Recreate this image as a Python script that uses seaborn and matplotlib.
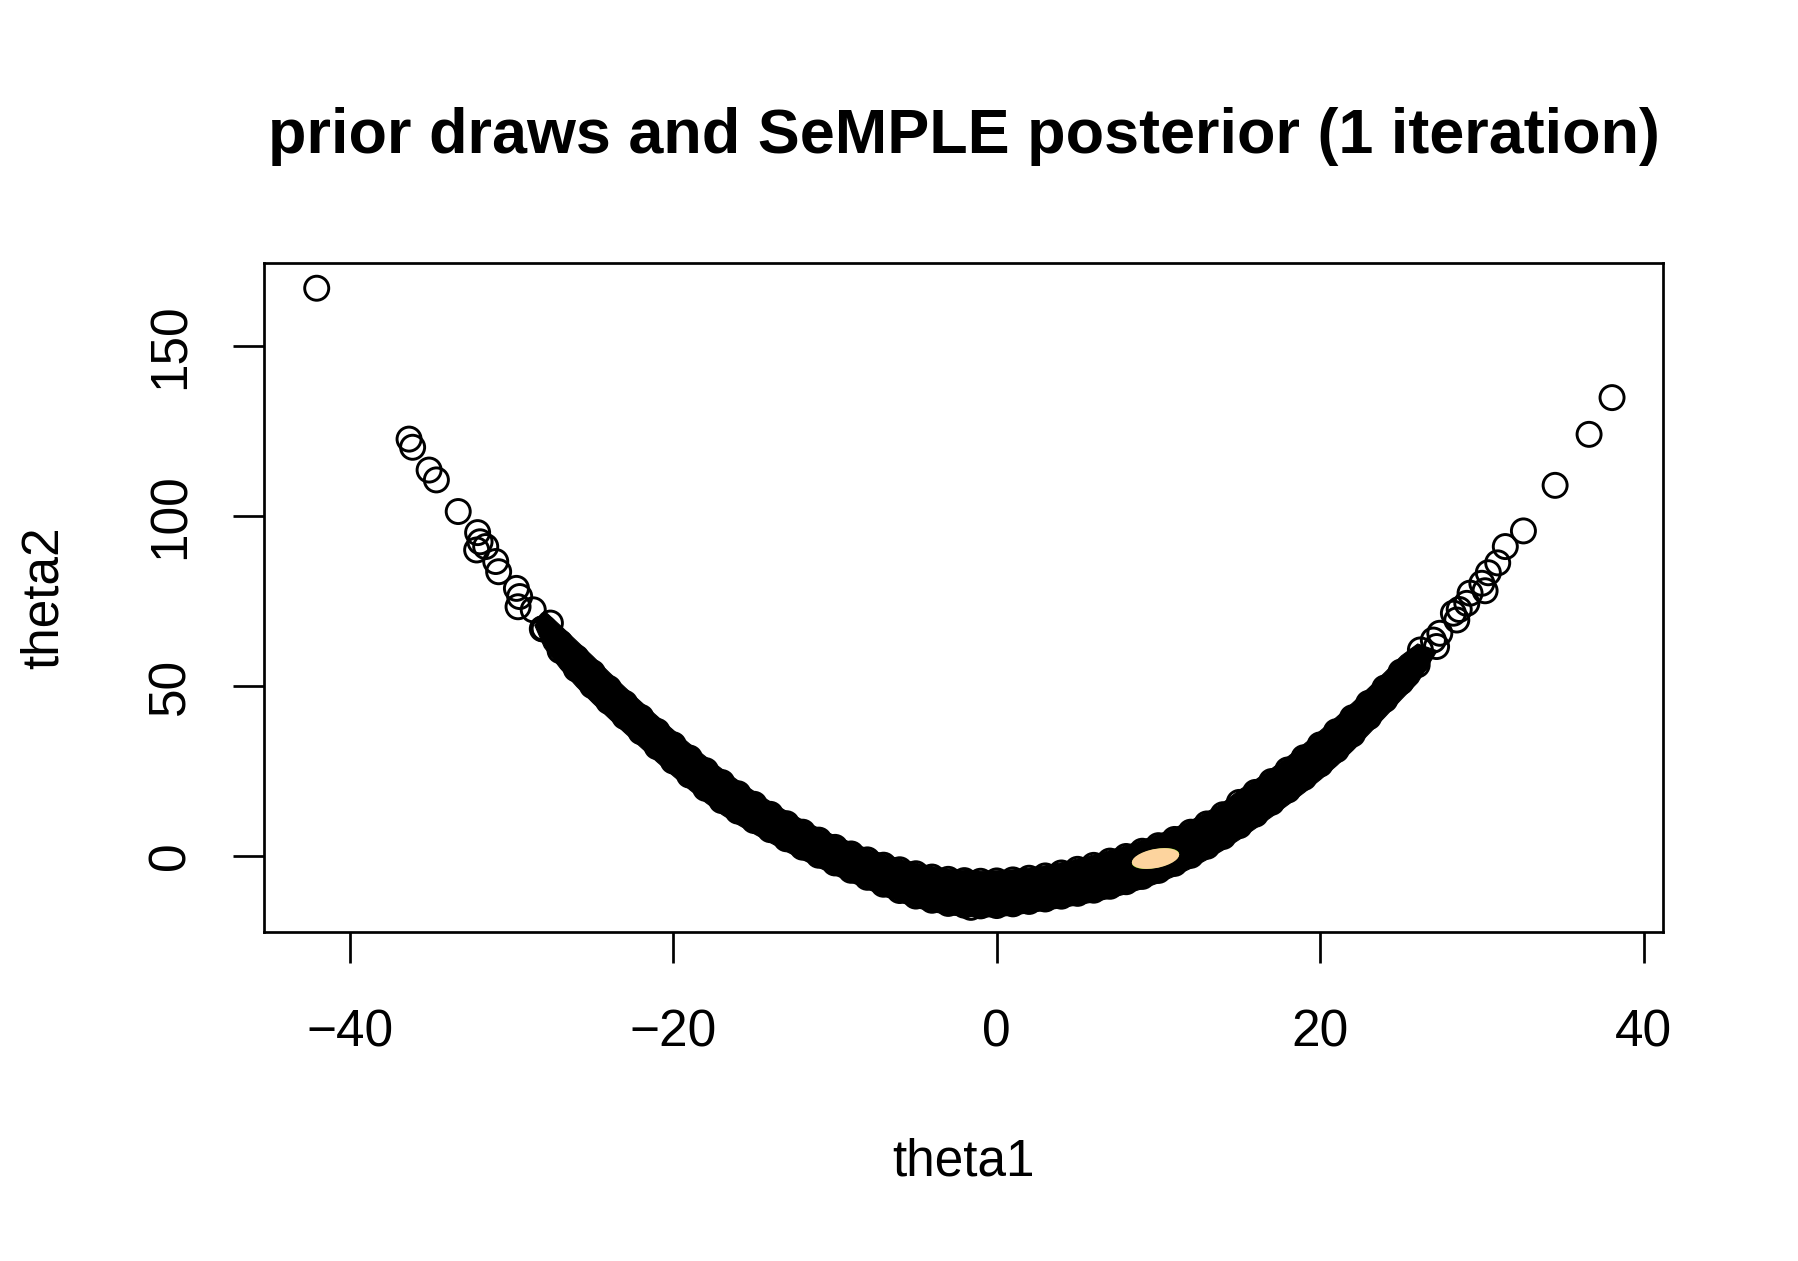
import numpy as np
import pandas as pd
import matplotlib
matplotlib.use("Agg")
import matplotlib.pyplot as plt
import seaborn as sns
from matplotlib.patches import Ellipse

# ---------------- data ----------------
# isolated prior draws (theta1, theta2) that stand out from the dense band
sparse_theta1 = [-42.05, -36.34, -36.12, -35.10, -34.65, -33.30, -32.10, -31.95,
                 -32.16, -31.60, -30.98, -30.80, -29.70, -29.50, -29.60, -28.66,
                 -27.60, -28.10, -1.60,
                 38.05, 36.63, 34.53, 32.57, 31.45, 30.98, 30.40, 30.00, 30.20,
                 29.27, 29.07, 28.24, 28.45, 27.40, 27.20, 26.20, 27.00, 28.60]
sparse_theta2 = [166.97, 122.6, 120.2, 113.5, 110.6, 101.3, 95.1, 92.4,
                 90.0, 91.0, 86.6, 83.6, 78.7, 76.3, 73.3, 72.4,
                 68.5, 66.8, -15.1,
                 134.8, 124.0, 109.0, 95.6, 91.0, 86.2, 83.3, 80.2, 78.0,
                 77.3, 74.3, 71.4, 69.4, 65.5, 61.6, 60.6, 63.5, 72.5]

# dense band of thousands of overlapping prior draws:
# upper and lower outline of the solid black region
band_theta1 = [-28.6, -28, -27, -26, -25, -24, -23, -22, -21, -20, -19, -18, -17, -16, -15,
               -14, -13, -12, -11, -10, -9, -8, -7, -6, -5, -4, -3, -2, -1, 0,
               1, 2, 3, 4, 5, 6, 7, 8, 9, 10, 11, 12, 13, 14,
               15, 16, 17, 18, 19, 20, 21, 22, 23, 24, 25, 26, 27.2]
band_top = [68.0, 72.2, 67.8, 63.3, 58.8, 54.1, 49.6, 45.3, 41.1, 37.0, 33.0, 29.2, 25.6, 22.2, 19.0,
            16.0, 13.2, 10.6, 8.2, 6.0, 4.0, 2.2, 0.6, -0.8, -2.0, -3.0, -3.7, -4.1, -4.3, -4.2,
            -3.9, -3.4, -2.7, -1.8, -0.7, 0.5, 1.8, 3.2, 4.8, 6.5, 8.4, 10.6, 13.1, 15.9,
            19.6, 22.6, 25.9, 29.4, 33.1, 37.0, 41.0, 45.2, 49.6, 54.2, 59.0, 62.5, 60.5]
band_bottom = [68.0, 61.5, 55.3, 50.0, 45.2, 40.7, 36.3, 32.0, 27.7, 23.6, 19.6, 15.8, 12.3, 9.3, 6.6,
               4.0, 1.4, -1.0, -3.3, -5.5, -7.6, -9.6, -11.6, -13.4, -15.0, -16.2, -17.1, -17.6, -17.8, -17.7,
               -17.2, -16.5, -15.8, -15.0, -14.2, -13.3, -12.2, -10.9, -9.4, -7.7, -5.7, -3.4, -0.8, 2.0,
               5.1, 8.4, 11.8, 15.3, 18.9, 22.7, 26.8, 31.3, 36.2, 41.2, 46.3, 51.2, 60.5]

# outermost individual draws along the band edges (their rings give the bumpy outline)
edge_theta1 = [-28, -27, -26, -25, -24, -23, -22, -21, -20, -19, -18, -17, -16, -15,
               -14, -13, -12, -11, -10, -9, -8, -7, -6, -5, -4, -3, -2, -1, 0,
               1, 2, 3, 4, 5, 6, 7, 8, 9, 10, 11, 12, 13, 14,
               15, 16, 17, 18, 19, 20, 21, 22, 23, 24, 25, 26]
edge_upper = [66.95, 62.7, 58.3, 53.9, 49.3, 44.9, 40.75, 36.65, 32.7, 28.8, 25.1, 21.6, 18.3, 15.2,
              12.25, 9.5, 7.0, 4.67, 2.54, 0.6, -1.14, -2.7, -4.05, -5.22, -6.19, -6.86, -7.24, -7.43, -7.33,
              -7.03, -6.54, -5.86, -4.99, -3.92, -2.75, -1.5, -0.14, 1.4, 3.04, 4.87, 7.0, 9.43, 12.15,
              15.76, 18.7, 21.9, 25.3, 28.9, 32.67, 36.55, 40.65, 44.9, 49.4, 54.1, 57.5]
edge_lower = [66.75, 60.4, 55.0, 50.1, 45.5, 41.0, 36.55, 32.15, 27.93, 23.8, 19.9, 16.3, 13.2, 10.44,
              7.75, 5.07, 2.6, 0.23, -2.04, -4.2, -6.26, -8.3, -10.15, -11.78, -13.01, -13.94, -14.46, -14.67, -14.57,
              -14.07, -13.36, -12.64, -11.81, -10.98, -10.05, -8.9, -7.56, -6.0, -4.24, -2.17, 0.2, 2.87, 5.75,
              8.94, 12.3, 15.8, 19.4, 23.1, 27.03, 31.25, 35.85, 40.9, 46.0, 51.2, 56.2]

# SeMPLE posterior (1 iteration): location and spread
post_mean = [9.82, -0.74]
post_cov = [[2.14, 1.66], [1.66, 9.35]]
prev_cov = [[2.14, 1.86], [1.86, 9.35]]

x_ticks = [-40, -20, 0, 20, 40]
y_ticks = [0, 50, 100, 150]
x_label = "theta1"
y_label = "theta2"
title = "prior draws and SeMPLE posterior (1 iteration)"

# ---------------- plotting ----------------
sns.set_theme(style="white")
plt.rcParams["font.family"] = ["Liberation Sans", "DejaVu Sans"]
plt.rcParams["axes.unicode_minus"] = True
plt.rcParams["text.color"] = "black"
plt.rcParams["axes.labelcolor"] = "black"
plt.rcParams["xtick.color"] = "black"
plt.rcParams["ytick.color"] = "black"

W, H = 1799, 1261
fig = plt.figure(figsize=(W / 100, H / 100), dpi=100)
L, R, T, B = 264, 1663.3, 263.3, 931.7
ax = fig.add_axes([L / W, 1 - B / H, (R - L) / W, (B - T) / H])

LW = 1.95    # frame / tick width (pt)
MLW = 2.1    # circle stroke width (pt)
MS = 17.3    # circle diameter (pt)

# dense band of overlapping circles reads as solid black
ax.fill_between(band_theta1, band_bottom, band_top, color="black", lw=0.8,
                edgecolor="black", zorder=2)

points_df = pd.DataFrame({
    "theta1": sparse_theta1 + edge_theta1 + edge_theta1,
    "theta2": sparse_theta2 + edge_upper + edge_lower,
})
sns.scatterplot(data=points_df, x="theta1", y="theta2", ax=ax, marker="o", s=MS ** 2,
                facecolor="none", edgecolor="black", linewidth=MLW, zorder=3, legend=False)


def cov_ellipse(mean, cov, **kw):
    cov = np.asarray(cov, dtype=float)
    vals, vecs = np.linalg.eigh(cov)
    order = np.argsort(vals)[::-1]
    vals, vecs = vals[order], vecs[:, order]
    ang = np.degrees(np.arctan2(vecs[1, 0], vecs[0, 0]))
    return Ellipse(mean, 2 * np.sqrt(vals[0]), 2 * np.sqrt(vals[1]), angle=ang, **kw)


ax.add_patch(cov_ellipse(post_mean, prev_cov, facecolor="#5fd400", edgecolor="none", zorder=4))
ax.add_patch(cov_ellipse(post_mean, post_cov, facecolor="#FDD49E", edgecolor="none", zorder=5))

ax.set_xlim(-45.31, 41.22)
ax.set_ylim(-22.26, 174.3)
ax.set_xticks(x_ticks)
ax.set_yticks(y_ticks)
ax.set_xticklabels([f"{v}".replace("-", "\u2212") for v in x_ticks])
ax.set_yticklabels([str(v) for v in y_ticks])

for sp in ax.spines.values():
    sp.set_visible(True)
    sp.set_color("black")
    sp.set_linewidth(LW)

ax.tick_params(axis="both", which="major", direction="out", length=22.3, width=LW,
               color="black", labelsize=37, labelcolor="black")
ax.tick_params(axis="x", pad=33.0, bottom=True)
ax.tick_params(axis="y", pad=27.0, left=True, labelrotation=90)
for lab in ax.get_yticklabels():
    lab.set_va("center")

ax.set_xlabel(x_label, fontsize=37, va="baseline", color="black")
ax.xaxis.set_label_coords(0.5, -(1176 - B) / (B - T))
ax.set_ylabel(y_label, fontsize=37, va="baseline", rotation_mode="anchor", color="black")
ax.yaxis.set_label_coords((58 - L) / (R - L), 0.5)

ax.set_title(title, fontsize=45.3, fontweight="bold", y=(B - 153.3) / (B - T), pad=0,
             va="baseline", color="black")

ax.grid(False)
ax.set_facecolor("white")
fig.patch.set_facecolor("white")
fig.savefig("out.png", dpi=100, facecolor="white")
